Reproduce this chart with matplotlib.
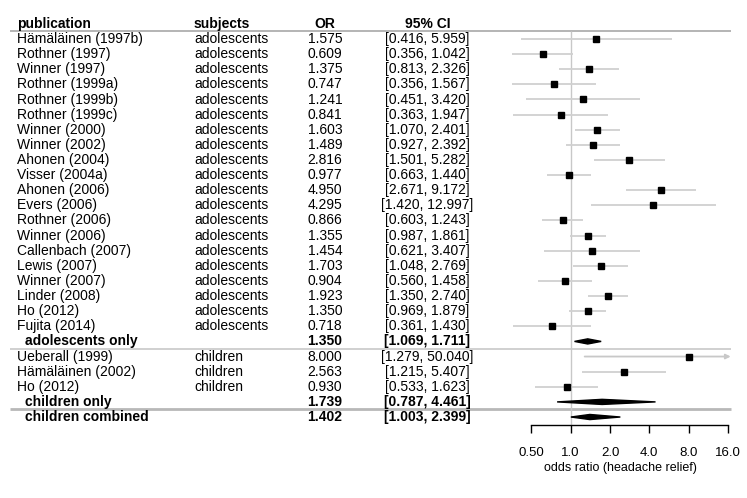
import numpy as np
import matplotlib.pyplot as plt
from matplotlib.patches import Polygon

plt.rcParams['font.family'] = ['Liberation Sans', 'DejaVu Sans']

# study level data
pubs = ['Hämäläinen (1997b)', 'Rothner (1997)', 'Winner (1997)', 'Rothner (1999a)',
        'Rothner (1999b)', 'Rothner (1999c)', 'Winner (2000)', 'Winner (2002)',
        'Ahonen (2004)', 'Visser (2004a)', 'Ahonen (2006)', 'Evers (2006)',
        'Rothner (2006)', 'Winner (2006)', 'Callenbach (2007)', 'Lewis (2007)',
        'Winner (2007)', 'Linder (2008)', 'Ho (2012)', 'Fujita (2014)',
        'Ueberall (1999)', 'Hämäläinen (2002)', 'Ho (2012)']
subjects = ['adolescents'] * 20 + ['children'] * 3
odds = [1.575, 0.609, 1.375, 0.747, 1.241, 0.841, 1.603, 1.489, 2.816, 0.977,
        4.950, 4.295, 0.866, 1.355, 1.454, 1.703, 0.904, 1.923, 1.350, 0.718,
        8.000, 2.563, 0.930]
ci_lo = [0.416, 0.356, 0.813, 0.356, 0.451, 0.363, 1.070, 0.927, 1.501, 0.663,
         2.671, 1.420, 0.603, 0.987, 0.621, 1.048, 0.560, 1.350, 0.969, 0.361,
         1.279, 1.215, 0.533]
ci_hi = [5.959, 1.042, 2.326, 1.567, 3.420, 1.947, 2.401, 2.392, 5.282, 1.440,
         9.172, 12.997, 1.243, 1.861, 3.407, 2.769, 1.458, 2.740, 1.879, 1.430,
         50.040, 5.407, 1.623]
study_rows = list(range(1, 21)) + [22, 23, 24]

# pooled estimates
sum_labels = ['adolescents only', 'children only', 'children combined']
sum_or = [1.350, 1.739, 1.402]
sum_lo = [1.069, 0.787, 1.003]
sum_hi = [1.711, 4.461, 2.399]
sum_rows = [21, 25, 26]

tick_vals = [0.5, 1, 2, 4, 8, 16]
tick_labels = ['0.50', '1.0', '2.0', '4.0', '8.0', '16.0']

W, H = 747, 498
fig = plt.figure(figsize=(W / 100, H / 100), dpi=100)

# rows: row k sits at pixel 23.9 + k*15.12 from the top
y0, dy = 23.9, 15.12
ylims = ((H - y0) / dy, -y0 / dy)
axis_row = (425 - y0) / dy

# table axes in pixel x units
axt = fig.add_axes([0, 0, 1, 1])
axt.set_xlim(0, W)
axt.set_ylim(*ylims)
axt.axis('off')

# forest axes, log2 scale: 1.0 at x=570.7, 39.32 px per doubling
L, R = 500, 730.7
px1, ppd = 570.7, 39.32
ax = fig.add_axes([L / W, 0, (R - L) / W, 1])
ax.set_xscale('log', base=2)
ax.set_xlim(2 ** ((L - px1) / ppd), 2 ** ((R - px1) / ppd))
ax.set_ylim(*ylims)
ax.patch.set_alpha(0)
xmax = ax.get_xlim()[1]

fs = 10
x_pub, x_sub, x_or, x_ci = 17, 194, 325, 427.5

# header
axt.text(x_pub, 0, 'publication', fontsize=fs, fontweight='bold', va='center')
axt.text(x_sub, 0, 'subjects', fontsize=fs, fontweight='bold', va='center')
axt.text(x_or, 0, 'OR', fontsize=fs, fontweight='bold', va='center', ha='center')
axt.text(x_ci, 0, '95% CI', fontsize=fs, fontweight='bold', va='center', ha='center')

# separator lines
axt.hlines(0.5, 10, R, color='#a8a8a8', lw=1.2)
axt.hlines(21.5, 10, R, color='#c8c8c8', lw=1.2)
axt.hlines(25.5, 10, R, color='#b8b8b8', lw=2)

# reference line at OR = 1
ax.vlines(1, 0.5, axis_row, color='#c8c8c8', lw=1)

for i, k in enumerate(study_rows):
    axt.text(x_pub, k, pubs[i], fontsize=fs, va='center')
    axt.text(x_sub, k, subjects[i], fontsize=fs, va='center')
    axt.text(x_or, k, f'{odds[i]:.3f}', fontsize=fs, va='center', ha='center')
    axt.text(x_ci, k, f'[{ci_lo[i]:.3f}, {ci_hi[i]:.3f}]', fontsize=fs,
             va='center', ha='center')
    if ci_hi[i] > xmax:
        ax.annotate('', xy=(xmax, k), xytext=(ci_lo[i], k),
                    arrowprops=dict(arrowstyle='-|>', color='#c8c8c8', lw=1.3,
                                    mutation_scale=7, shrinkA=0, shrinkB=0))
    else:
        ax.plot([ci_lo[i], ci_hi[i]], [k, k], color='#d0d0d0', lw=1.3,
                solid_capstyle='butt', zorder=2)
    ax.plot(odds[i], k, marker='s', color='black', markersize=4.4, zorder=3)

h = 0.17
for i, k in enumerate(sum_rows):
    axt.text(x_pub + 8, k, sum_labels[i], fontsize=fs, fontweight='bold', va='center')
    axt.text(x_or, k, f'{sum_or[i]:.3f}', fontsize=fs, fontweight='bold',
             va='center', ha='center')
    axt.text(x_ci, k, f'[{sum_lo[i]:.3f}, {sum_hi[i]:.3f}]', fontsize=fs,
             fontweight='bold', va='center', ha='center')
    dia = Polygon([(sum_lo[i], k), (sum_or[i], k - h), (sum_hi[i], k),
                   (sum_or[i], k + h)], closed=True, color='black', zorder=3)
    ax.add_patch(dia)

# x axis
for s in ['top', 'left', 'right']:
    ax.spines[s].set_visible(False)
ax.spines['bottom'].set_position(('data', axis_row))
ax.spines['bottom'].set_bounds(0.5, 16)
ax.spines['bottom'].set_linewidth(1)
ax.set_xticks(tick_vals)
ax.set_xticklabels(tick_labels)
ax.xaxis.set_minor_locator(plt.NullLocator())
ax.tick_params(axis='x', direction='out', length=5.5, width=1, pad=10, labelsize=9.5)
ax.set_yticks([])

axt.text(620.7, (467.5 - y0) / dy, 'odds ratio (headache relief)', fontsize=9,
         ha='center', va='center')

fig.savefig('out.png', dpi=100)
